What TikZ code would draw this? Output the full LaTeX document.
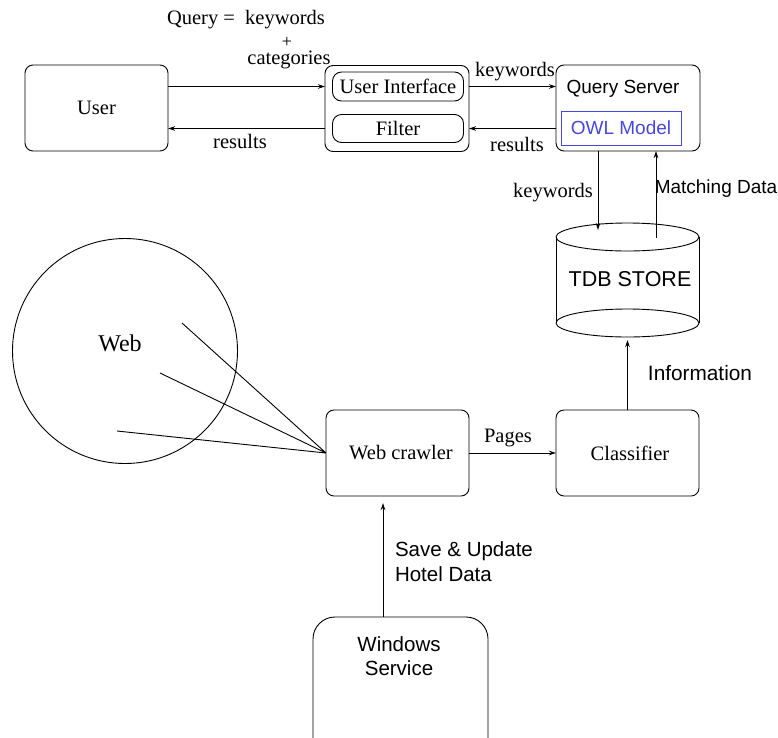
\documentclass[tikz,border=0pt]{standalone}
\usepackage{fontspec}
\setmainfont{Liberation Serif}
\setsansfont{Liberation Sans}
\usetikzlibrary{arrows.meta}
\definecolor{owlblue}{RGB}{70,70,230}
\tikzset{
  every node/.style={inner sep=0pt, outer sep=0pt},
  ser/.style={font=\fontsize{20.5}{24}\selectfont},
  sans/.style={font=\sffamily\fontsize{19}{23}\selectfont},
  box/.style={draw, line width=0.9pt, rounded corners=8pt, ser},
  inbox/.style={draw, line width=0.9pt, rounded corners=9pt, ser},
  lnk/.style={line width=0.9pt},
  arr/.style={lnk, -{Stealth[length=7pt,width=4.5pt]}},
}
\begin{document}
\begin{tikzpicture}[x=1pt,y=-1pt]
\useasboundingbox (0,0) rectangle (778,737);
\clip (0,0) rectangle (778,737);

% top row
\node[box, minimum width=143pt, minimum height=86pt] (user) at (96.5,108) {User};
\node[box, minimum width=144pt, minimum height=86pt] (mid) at (397,108.5) {};
\node[inbox, minimum width=131pt, minimum height=29pt] (ui) at (398,86.5) {User Interface};
\node[inbox, minimum width=131pt, minimum height=28pt] (filt) at (398,128.5) {Filter};
\node[box, minimum width=144pt, minimum height=86pt] (qs) at (628,108) {};
\node[sans, anchor=center] (qstext) at (623,89) {Query Server};
\node[draw=owlblue, line width=0.9pt, minimum width=120pt, minimum height=34pt,
      sans, text=owlblue] (owl) at (621,128) {OWL Model};

% store
\node[minimum width=143pt, minimum height=114pt] (db) at (627.5,280) {};
\draw[lnk] (556,237) -- (556,323) (699,237) -- (699,323);
\draw[lnk] (627.5,237) ellipse [x radius=71.5, y radius=14];
\draw[lnk] (627.5,323) ellipse [x radius=71.5, y radius=14];
\node[sans, font=\sffamily\fontsize{21.5}{25}\selectfont] at (630,279) {TDB STORE};
\coordinate (dbin) at (598,230);
\coordinate (dbout) at (656,238);
\coordinate (dbbot) at (627.5,340);

% web
\node[draw, circle, line width=0.9pt, minimum size=225pt] (web) at (125,351) {};
\node[font=\fontsize{24}{28}\selectfont] at (120,343) {Web};
\coordinate (w1) at (182,323);
\coordinate (w2) at (160,373);
\coordinate (w3) at (117,431);

% crawler row
\node[box, minimum width=143pt, minimum height=86pt] (crawl) at (397.5,453) {};
\node[ser] at (401,453) {Web crawler};
\node[box, minimum width=143pt, minimum height=86pt] (cls) at (627.5,453) {};
\node[ser] at (630,453) {Classifier};
\coordinate (crin) at (383,503);

% service
\node[draw, line width=0.9pt, rounded corners=22pt, minimum width=175pt, minimum height=150pt] (win) at (400.5,692) {};
\node[sans, font=\sffamily\fontsize{20.5}{24}\selectfont, align=center] at (399,656) {Windows\\Service};

% connectors
\draw[arr] (user.east |- ui.west) -- (mid.west |- ui.west);
\draw[arr] (mid.west |- filt.west) -- (user.east |- filt.west);
\draw[arr] (mid.east |- ui.east) -- (qs.west |- ui.east);
\draw[arr] (qs.west |- filt.east) -- (mid.east |- filt.east);
\draw[arr] (qs.south -| dbin) -- (dbin);
\draw[arr] (dbout) -- (qs.south -| dbout);
\draw[arr] (cls.north) -- (dbbot);
\draw[arr] (crawl.east) -- (cls.west);
\draw[arr] (win.north -| crin) -- (crin);
\draw[lnk] (w1) -- (crawl.west) (w2) -- (crawl.west) (w3) -- (crawl.west);

% labels
\node[ser] at (246,20) {Query = \ keywords};
\node[font=\fontsize{18}{20}\selectfont] at (287,42) {+};
\node[ser] at (289,60) {categories};
\node[ser] at (515,72) {keywords};
\node[ser] at (240,141) {results};
\node[ser] at (517,144) {results};
\node[ser] at (553,193) {keywords};
\node[sans] at (716,189) {Matching Data};
\node[sans, font=\sffamily\fontsize{20.8}{24}\selectfont] at (700,373) {Information};
\node[ser] at (508,438) {Pages};
\node[sans, font=\sffamily\fontsize{20.5}{25}\selectfont, align=left, anchor=west] at (395,561.5) {Save \& Update\\Hotel Data};
\end{tikzpicture}
\end{document}
